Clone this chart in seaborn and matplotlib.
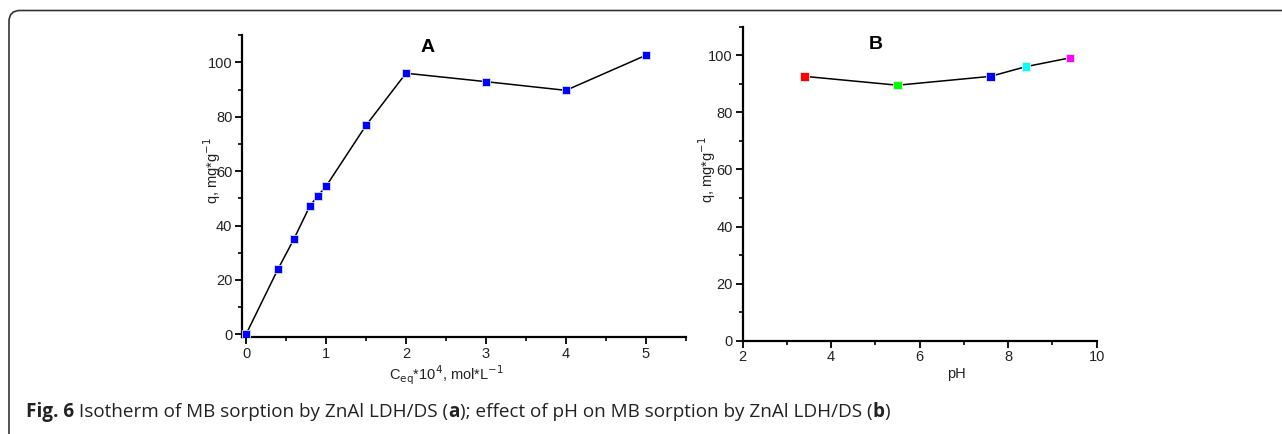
#!/usr/bin/env python3

# Fig. 6: MB sorption isotherm (A) and pH effect (B) on ZnAl LDH/DS

import matplotlib.pyplot as plt
from matplotlib.patches import FancyBboxPatch
from matplotlib.ticker import MultipleLocator
import pandas
import seaborn as sns

sns.set_theme(style="ticks")
plt.rcParams["font.family"] = ["Liberation Sans", "DejaVu Sans"]

# Panel A: isotherm
ceq = [0, 0.4, 0.6, 0.8, 0.9, 1.0, 1.5, 2.0, 3.0, 4.0, 5.0]
q_iso = [0, 24.0, 35.1, 47.3, 51.0, 54.4, 76.8, 96.0, 92.9, 89.7, 102.6]

# Panel B: effect of pH
ph = [3.4, 5.5, 7.6, 8.4, 9.4]
q_ph = [92.6, 89.5, 92.6, 96.0, 99.1]
ph_colors = ["#ff0000", "#00ff00", "#0000ff", "#00ffff", "#ff00ff"]

caption_parts = [
    ("Fig. 6", "bold"),
    (" Isotherm of MB sorption by ZnAl LDH/DS (", "normal"),
    ("a", "bold"),
    ("); effect of pH on MB sorption by ZnAl LDH/DS (", "normal"),
    ("b", "bold"),
    (")", "normal"),
]

df_a = pandas.DataFrame({"x": ceq, "q": q_iso})
df_b = pandas.DataFrame({"x": ph, "q": q_ph, "c": [str(i) for i in range(len(ph))]})

W, H = 1282, 434
fig = plt.figure(figsize=(W / 100, H / 100), dpi=100)
ax_a = fig.add_axes([0.1888, 0.2235, 0.3462, 0.6955])
ax_b = fig.add_axes([0.5793, 0.215, 0.2762, 0.7235])


def style_axis(ax):
    for side in ["top", "right"]:
        ax.spines[side].set_visible(False)
    for side in ["left", "bottom"]:
        ax.spines[side].set_linewidth(1.6)
        ax.spines[side].set_color("black")
    ax.tick_params(which="major", direction="out", length=5, width=1.3,
                   labelsize=10.5, colors="black", labelcolor="#222222", pad=2)
    ax.tick_params(which="minor", direction="out", length=3, width=1.2,
                   colors="black")


# ---- Panel A
sns.lineplot(data=df_a, x="x", y="q", ax=ax_a, color="black", linewidth=1.1,
             sort=False)
sns.scatterplot(data=df_a, x="x", y="q", ax=ax_a, color="#0000ff", marker="s",
                s=38, edgecolor="#ddddff", linewidth=0.6, zorder=3)
ax_a.set_xlim(-0.05, 5.5)
ax_a.set_ylim(-1, 110)
ax_a.xaxis.set_major_locator(MultipleLocator(1))
ax_a.xaxis.set_minor_locator(MultipleLocator(0.5))
ax_a.yaxis.set_major_locator(MultipleLocator(20))
ax_a.yaxis.set_minor_locator(MultipleLocator(10))
style_axis(ax_a)
ax_a.set_xlabel(r"C$_{\mathrm{eq}}$*10$^{4}$, mol*L$^{-1}$", fontsize=10.5,
                color="#222222")
ax_a.xaxis.set_label_coords(0.46, -0.09)
ax_a.set_ylabel(r"q, mg*g$^{-1}$", fontsize=10.5, color="#222222")
ax_a.yaxis.set_label_coords(-0.043, 0.55)
ax_a.text(2.27, 105.3, "A", fontsize=14, fontweight="bold", ha="center",
          va="center", color="black")

# ---- Panel B
sns.lineplot(data=df_b, x="x", y="q", ax=ax_b, color="black", linewidth=1.1,
             sort=False)
sns.scatterplot(data=df_b, x="x", y="q", hue="c", palette=ph_colors, ax=ax_b,
                marker="s", s=38, edgecolor="#eeeeee", linewidth=0.6,
                zorder=3, legend=False)
ax_b.set_xlim(2, 10)
ax_b.set_ylim(0, 110)
ax_b.xaxis.set_major_locator(MultipleLocator(2))
ax_b.xaxis.set_minor_locator(MultipleLocator(1))
ax_b.yaxis.set_major_locator(MultipleLocator(20))
ax_b.yaxis.set_minor_locator(MultipleLocator(10))
style_axis(ax_b)
ax_b.set_xlabel("pH", fontsize=10.5, color="#222222")
ax_b.xaxis.set_label_coords(0.605, -0.083)
ax_b.set_ylabel(r"q, mg*g$^{-1}$", fontsize=10.5, color="#222222")
ax_b.yaxis.set_label_coords(-0.071, 0.545)
ax_b.text(5.0, 103.9, "B", fontsize=14, fontweight="bold", ha="center",
          va="center", color="black")

# outer frame: only top and left edges show, small rounded corner
frame = FancyBboxPatch((9 / 100, -1.0), 20.0, 1.0 + (H - 10.5) / 100,
                       boxstyle="round,pad=0,rounding_size=0.11",
                       transform=fig.dpi_scale_trans, fill=False,
                       edgecolor="#333333", linewidth=1.2)
fig.patches.append(frame)

# caption, mixed bold / normal runs
cap_font = ["Open Sans", "DejaVu Sans"]
fig.canvas.draw()
renderer = fig.canvas.get_renderer()
x = 26
for txt, weight in caption_parts:
    t = fig.text(x / W, 1 - 417 / H, txt, fontsize=13.6, fontweight=weight,
                 family=cap_font, va="baseline", color="#222222")
    x = t.get_window_extent(renderer).x1

fig.savefig("out.png", dpi=100)
